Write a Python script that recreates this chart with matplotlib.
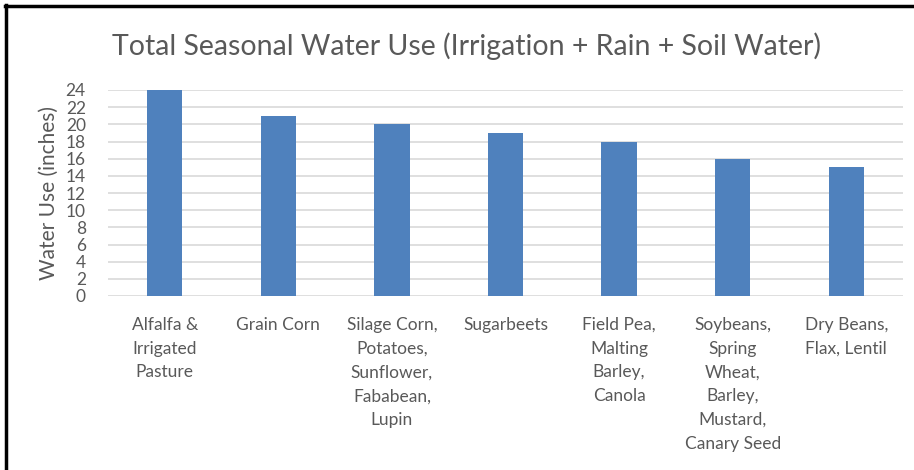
import numpy as np
import matplotlib.pyplot as plt
from matplotlib.lines import Line2D

plt.rcParams['font.family'] = ['Lato', 'DejaVu Sans']

# data
crops = ["Alfalfa &\nIrrigated\nPasture", "Grain Corn",
         "Silage Corn,\nPotatoes,\nSunflower,\nFababean,\nLupin",
         "Sugarbeets", "Field Pea,\nMalting\nBarley,\nCanola",
         "Soybeans,\nSpring\nWheat,\nBarley,\nMustard,\nCanary Seed",
         "Dry Beans,\nFlax, Lentil"]
water_use = [24, 21, 20, 19, 18, 16, 15]
yticks = np.arange(0, 25, 2)

grey = "#595959"

fig = plt.figure(figsize=(9.14, 4.70), dpi=100)
ax = fig.add_axes([108/914, 1 - 296/470, (903-108)/914, (296-90)/470])

x = np.arange(len(crops))
ax.bar(x, water_use, width=0.31, color="#4F81BD", zorder=3)

ax.set_xlim(-0.5, len(crops) - 0.5)
ax.set_ylim(0, 24)
ax.set_yticks(yticks)
ax.set_xticks(x)
ax.set_xticklabels(crops, fontsize=12.5, color=grey, linespacing=1.6, va="top")
ax.tick_params(axis="y", labelsize=12.5, labelcolor=grey, length=0, pad=16)
ax.tick_params(axis="x", length=0, pad=15)
ax.yaxis.grid(True, color="#D9D9D9", lw=1.2, zorder=0)
for s in ax.spines.values():
    s.set_visible(False)

ax.set_ylabel("Water Use (inches)", fontsize=15, color=grey, labelpad=5)

fig.text(467/914, 1 - 46/470, "Total Seasonal Water Use (Irrigation + Rain + Soil Water)",
         fontsize=20.5, color=grey, ha="center", va="center")

# black frame on left and top edge
fig.add_artist(Line2D([6/914, 6/914], [0, 1 - 5/470], transform=fig.transFigure,
                      color="black", lw=2.5))
fig.add_artist(Line2D([5/914, 1], [1 - 6/470, 1 - 6/470], transform=fig.transFigure,
                      color="black", lw=2.5))

fig.savefig("out.png", dpi=100)
